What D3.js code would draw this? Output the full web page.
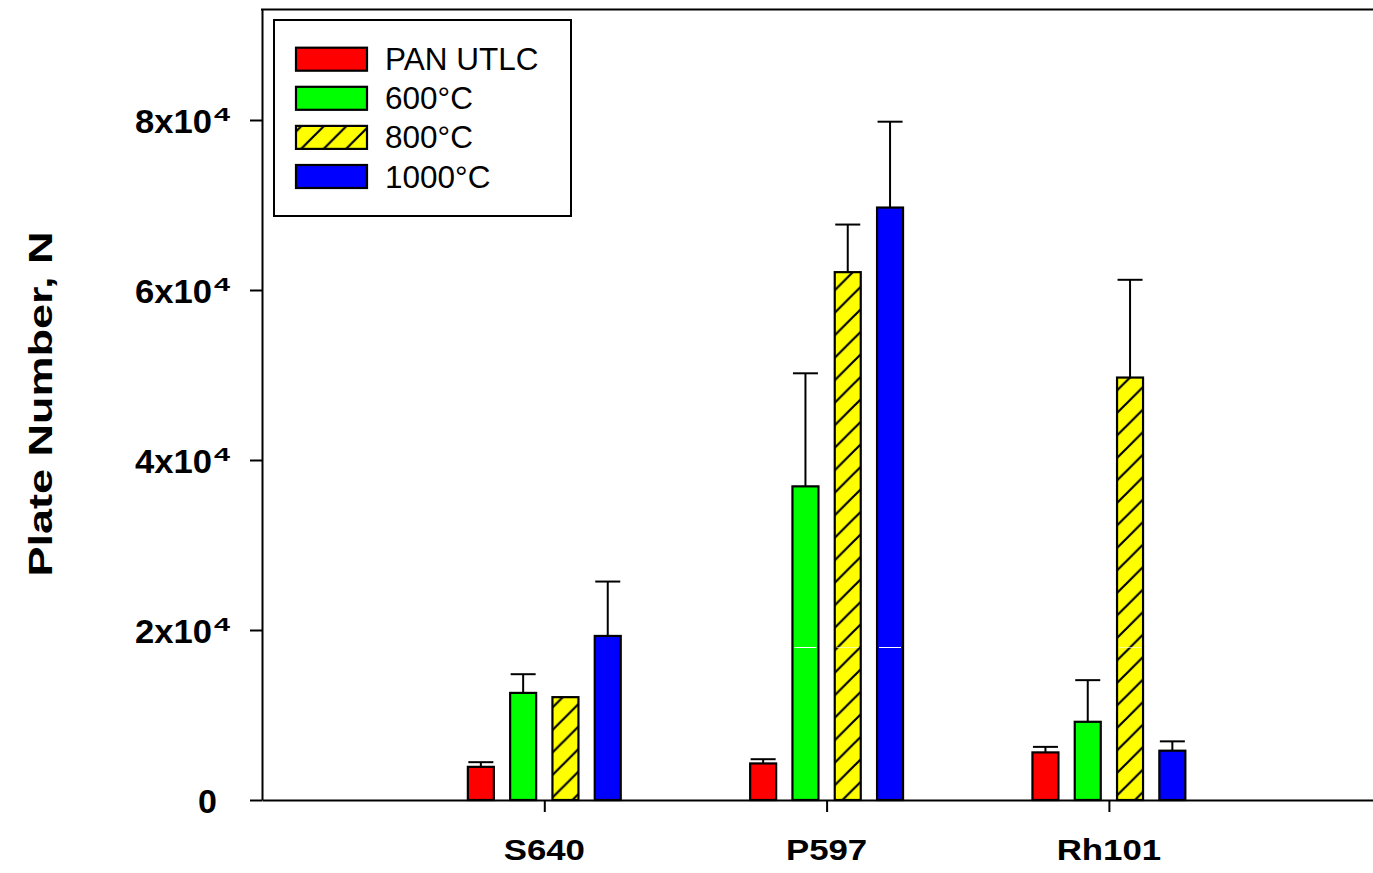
<!DOCTYPE html>
<html>
<head>
<meta charset="utf-8">
<script src="https://cdn.jsdelivr.net/npm/d3@7"></script>
<style>
  html, body { margin: 0; padding: 0; background: #fff; }
  svg { display: block; }
  text { font-family: "Liberation Sans", Arial, Helvetica, sans-serif; }
</style>
</head>
<body>
<svg id="chart" width="1373" height="873"></svg>
<script>
// Samples (x axis) and series
const categories = ["S640", "P597", "Rh101"];
const seriesNames = ["PAN UTLC", "600°C", "800°C", "1000°C"];

// Plate number means and upper error (one SD) per sample
const panUtlc    = [3900, 4300, 5600];
const panUtlcErr = [550, 500, 650];
const c600       = [12600, 36900, 9200];
const c600Err    = [2200, 13300, 4900];
const c800       = [12100, 62100, 49700];
const c800Err    = [0, 5600, 11500];
const c1000      = [19300, 69700, 5800];
const c1000Err   = [6400, 10100, 1100];

// Y tick values and their labels (mantissa, exponent)
const yTicks = [0, 20000, 40000, 60000, 80000];
const yTickMantissa = ["0", "2x10", "4x10", "6x10", "8x10"];
const yTickExponent = ["", "4", "4", "4", "4"];

const seriesValues = [panUtlc, c600, c800, c1000];
const seriesErrors = [panUtlcErr, c600Err, c800Err, c1000Err];
const seriesFill = ["#ff0000", "#00ff00", "url(#hatch)", "#0000ff"];

const svg = d3.select("#chart");

const x = d3.scaleLinear().domain([0, 4]).range([262, 1391.2]);
const y = d3.scaleLinear().domain([0, 93000]).range([800, 9.5]);

const barStep = 42.3;
const barWidth = 26;

// Diagonal hatch for the 800°C series
const defs = svg.append("defs");
const hs = 22.5;
const pat = defs.append("pattern")
  .attr("id", "hatch")
  .attr("patternUnits", "userSpaceOnUse")
  .attr("width", hs).attr("height", hs);
pat.append("rect").attr("width", hs).attr("height", hs).attr("fill", "#ffff00");
pat.append("path")
  .attr("d", `M0,${hs} L${hs},0 M${-hs/4},${hs/4} L${hs/4},${-hs/4} M${hs*3/4},${hs*5/4} L${hs*5/4},${hs*3/4}`)
  .attr("stroke", "#000").attr("stroke-width", 2.2);

// Flatten into bar records
const bars = [];
seriesValues.forEach((vals, si) => {
  vals.forEach((v, ci) => {
    bars.push({ si, ci, v, err: seriesErrors[si][ci] });
  });
});
const barX = d => x(d.ci + 1) + (d.si - 1.5) * barStep - barWidth / 2;

// Error bars (upper only)
const eb = svg.append("g").attr("stroke", "#000").attr("stroke-width", 2);
bars.filter(d => d.err > 0).forEach(d => {
  const cx = barX(d) + barWidth / 2;
  eb.append("line").attr("x1", cx).attr("x2", cx)
    .attr("y1", y(d.v)).attr("y2", y(d.v + d.err));
  eb.append("line").attr("x1", cx - barWidth / 2 + 0.5).attr("x2", cx + barWidth / 2 - 0.5)
    .attr("y1", y(d.v + d.err)).attr("y2", y(d.v + d.err));
});

// Bars
svg.append("g").selectAll("rect").data(bars).join("rect")
  .attr("x", barX)
  .attr("y", d => y(d.v))
  .attr("width", barWidth)
  .attr("height", d => y(0) - y(d.v))
  .attr("fill", d => seriesFill[d.si])
  .attr("stroke", "#000")
  .attr("stroke-width", 2.2);

// Thin light seam across the taller bars
const seamLevel = 18000;
svg.append("g").selectAll("line").data(bars.filter(d => d.v > seamLevel + 1500)).join("line")
  .attr("x1", d => barX(d) + 2).attr("x2", d => barX(d) + barWidth - 2)
  .attr("y1", Math.round(y(seamLevel)) + 0.5).attr("y2", Math.round(y(seamLevel)) + 0.5)
  .attr("stroke", "#fff").attr("stroke-width", 1)
  .attr("stroke-opacity", d => d.si === 2 ? 0.6 : 1);

// Axes
const yAxis = d3.axisLeft(y).tickValues(yTicks).tickSize(12).tickSizeOuter(0).tickFormat("");
const gy = svg.append("g").attr("transform", `translate(${x(0)},0)`).call(yAxis);
const xAxis = d3.axisBottom(x).tickValues([1, 2, 3]).tickSize(12).tickSizeOuter(0).tickFormat("");
const gx = svg.append("g").attr("transform", `translate(0,${y(0)})`).call(xAxis);
[gy, gx].forEach(g => {
  g.selectAll("path, line").attr("stroke", "#000").attr("stroke-width", 2);
});

// Top frame line
svg.append("line")
  .attr("x1", x(0) - 1).attr("x2", x(4))
  .attr("y1", y(93000)).attr("y2", y(93000))
  .attr("stroke", "#000").attr("stroke-width", 2);

// Y tick labels with superscript exponent
yTicks.forEach((t, i) => {
  const ty = y(t);
  if (yTickExponent[i]) {
    svg.append("text")
      .attr("x", 212).attr("y", ty + 12.5)
      .attr("text-anchor", "end")
      .attr("font-size", 34).attr("font-weight", "bold")
      .attr("textLength", 77).attr("lengthAdjust", "spacingAndGlyphs")
      .text(yTickMantissa[i]);
    svg.append("text")
      .attr("x", 214).attr("y", ty + 0.5)
      .attr("font-size", 18).attr("font-weight", "bold")
      .attr("textLength", 16).attr("lengthAdjust", "spacingAndGlyphs")
      .text(yTickExponent[i]);
  } else {
    svg.append("text")
      .attr("x", 217).attr("y", ty + 12.5)
      .attr("text-anchor", "end")
      .attr("font-size", 34).attr("font-weight", "bold")
      .text(yTickMantissa[i]);
  }
});

// X category labels
categories.forEach((c, i) => {
  svg.append("text")
    .attr("transform", `translate(${x(i + 1)},860) scale(1.2,1)`)
    .attr("text-anchor", "middle")
    .attr("font-size", 29).attr("font-weight", "bold")
    .text(c);
});

// Y axis title
svg.append("text")
  .attr("transform", "translate(52,404) rotate(-90)")
  .attr("text-anchor", "middle")
  .attr("font-size", 33).attr("font-weight", "bold")
  .attr("textLength", 345).attr("lengthAdjust", "spacingAndGlyphs")
  .text("Plate Number, N");

// Legend
const lg = svg.append("g");
lg.append("rect")
  .attr("x", 274).attr("y", 20).attr("width", 297).attr("height", 196)
  .attr("fill", "#fff").attr("stroke", "#000").attr("stroke-width", 2);
seriesNames.forEach((name, i) => {
  const top = 47.7 + i * 39.1;
  lg.append("rect")
    .attr("x", 296).attr("y", top).attr("width", 71).attr("height", 23)
    .attr("fill", seriesFill[i]).attr("stroke", "#000").attr("stroke-width", 2.2);
  lg.append("text")
    .attr("x", 385).attr("y", top + 22.5)
    .attr("font-size", 31.5)
    .text(name);
});
</script>
</body>
</html>
